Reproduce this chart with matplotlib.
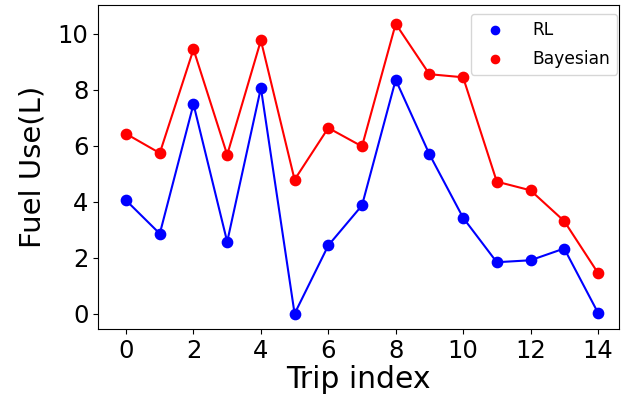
import matplotlib
matplotlib.use("Agg")
import matplotlib.pyplot as plt

trips = list(range(15))
rl = [4.05, 2.86, 7.49, 2.57, 8.07, 0.0, 2.44, 3.87, 8.36, 5.70, 3.43, 1.84, 1.91, 2.33, 0.04]
bayes = [6.43, 5.74, 9.45, 5.68, 9.77, 4.79, 6.64, 5.98, 10.36, 8.56, 8.45, 4.72, 4.41, 3.31, 1.46]

fig = plt.figure(figsize=(6.21, 4.01), dpi=100)
ax = fig.add_axes([0.158, 0.18, 0.839, 0.808])

ax.plot(trips, rl, color="blue", linewidth=1.5)
ax.scatter(trips, rl, color="blue", s=55, label="RL", zorder=3)
ax.plot(trips, bayes, color="red", linewidth=1.5)
ax.scatter(trips, bayes, color="red", s=55, label="Bayesian", zorder=3)

ax.set_xlim(-0.83, 14.63)
ax.set_ylim(-0.54, 11.04)
ax.set_xticks(range(0, 15, 2))
ax.set_yticks(range(0, 11, 2))
ax.tick_params(labelsize=17.5)
ax.set_xlabel("Trip index", fontsize=21.5, labelpad=2)
ax.set_ylabel("Fuel Use(L)", fontsize=21, labelpad=8)
leg = ax.legend(loc="upper right", fontsize=12.3, markerscale=0.8,
                bbox_to_anchor=(0.9936, 0.965), bbox_transform=fig.transFigure,
                borderaxespad=0, handletextpad=1.2, labelspacing=0.65)

fig.savefig("out.png", dpi=100)
